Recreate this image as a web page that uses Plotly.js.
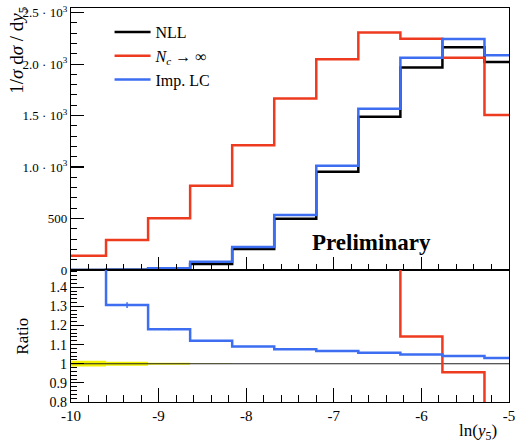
<!DOCTYPE html>
<html>
<head>
<meta charset="utf-8">
<script src="https://cdn.plot.ly/plotly-3.0.1.min.js"></script>
<style>html,body{margin:0;padding:0;background:#fff;}#chart{width:515px;height:443px;}</style>
</head>
<body>
<div id="chart"></div>
<script>
// Bin edges in ln(y5)
const binEdges = [-10.08, -9.6, -9.12, -8.64, -8.16, -7.68, -7.2, -6.72, -6.24, -5.76, -5.28, -4.8];
const binCenters = [-9.84, -9.36, -8.88, -8.40, -7.92, -7.44, -6.96, -6.48, -6.00, -5.52, -5.04];

// Top panel: 1/sigma dsigma/dy5
const nllValues   = [0, 2, 10, 58, 203, 498, 955, 1489, 1968, 2163, 2020];
const ncInfValues = [139, 291, 502, 819, 1211, 1667, 2046, 2308, 2246, 2062, 1505];
const impLCValues = [0, 3, 17, 81, 224, 534, 1013, 1567, 2062, 2243, 2085];

// Ratio panel (to NLL)
const ratioNLL    = [1, 1, 1, 1, 1, 1, 1, 1, 1, 1, 1];
const ratioNLLErr = [0.015, 0.011, 0.005, 0.001, 0, 0, 0, 0, 0, 0, 0];
const ratioNcInf  = [null, null, null, null, null, null, 2.14, 1.55, 1.142, 0.955, 0.745];
const ratioImpLC  = [1.8, 1.307, 1.18, 1.12, 1.09, 1.076, 1.066, 1.057, 1.048, 1.04, 1.03];
const ratioImpLCErr = [0, 0.015, 0.005, 0.004, 0.002, 0.002, 0.002, 0.002, 0.002, 0.002, 0.002];

const yTickVals = [0, 500, 1000, 1500, 2000, 2500];
const yTickText = ["0", "500", "1.0 · 10<sup>3</sup>", "1.5 · 10<sup>3</sup>", "2.0 · 10<sup>3</sup>", "2.5 · 10<sup>3</sup>"];
const rTickVals = [0.8, 0.9, 1, 1.1, 1.2, 1.3, 1.4];
const rTickText = ["0.8", "0.9", "1", "1.1", "1.2", "1.3", "1.4"];
const xTickVals = [-10, -9, -8, -7, -6, -5];
const xTickText = ["-10", "-9", "-8", "-7", "-6", "-5"];

const RED = '#ee3b20', BLUE = '#3d6ef2', BLACK = '#000000', YELLOW = '#f2f200';

function stepY(vals) { return vals.concat([vals[vals.length - 1]]); }
function stepFrom(vals, edges) {
  let i0 = vals.findIndex(v => v !== null);
  const v = vals.slice(i0);
  return { x: edges.slice(i0), y: v.concat([v[v.length - 1]]) };
}

const traces = [];
// Top panel
traces.push({ x: binEdges, y: stepY(nllValues), type: 'scatter', mode: 'lines', line: { shape: 'hv', color: BLACK, width: 2.5 }, name: 'NLL', xaxis: 'x', yaxis: 'y' });
traces.push({ x: binEdges, y: stepY(ncInfValues), type: 'scatter', mode: 'lines', line: { shape: 'hv', color: RED, width: 2.5 }, name: '<i>N<sub>c</sub></i> → ∞', xaxis: 'x', yaxis: 'y' });
traces.push({ x: binEdges, y: stepY(impLCValues), type: 'scatter', mode: 'lines', line: { shape: 'hv', color: BLUE, width: 2.5 }, name: 'Imp. LC', xaxis: 'x', yaxis: 'y' });

// Ratio panel
traces.push({ x: binCenters, y: ratioNLLErr.map(e => 2 * e), base: ratioNLL.map((r, i) => r - ratioNLLErr[i]), type: 'bar', width: 0.48, marker: { color: YELLOW, opacity: 1, line: { width: 0 } }, showlegend: false, xaxis: 'x2', yaxis: 'y2', hoverinfo: 'skip' });
traces.push({ x: binEdges, y: stepY(ratioNLL), type: 'scatter', mode: 'lines', line: { shape: 'hv', color: '#222', width: 1.2 }, showlegend: false, xaxis: 'x2', yaxis: 'y2' });
const rr = stepFrom(ratioNcInf, binEdges);
traces.push({ x: rr.x, y: rr.y, type: 'scatter', mode: 'lines', line: { shape: 'hv', color: RED, width: 2.5 }, showlegend: false, xaxis: 'x2', yaxis: 'y2' });
traces.push({ x: binEdges, y: stepY(ratioImpLC), type: 'scatter', mode: 'lines', line: { shape: 'hv', color: BLUE, width: 2.5 }, showlegend: false, xaxis: 'x2', yaxis: 'y2' });
traces.push({ x: binCenters, y: ratioImpLC, type: 'scatter', mode: 'markers', marker: { size: 1, color: BLUE, opacity: 0 }, error_y: { type: 'data', array: ratioImpLCErr, width: 0, thickness: 1.5, color: BLUE }, showlegend: false, xaxis: 'x2', yaxis: 'y2' });

const FONT = 'Liberation Serif, serif';
const axCommon = { showline: true, linecolor: '#000', linewidth: 1.2, mirror: true, zeroline: false, showgrid: false, ticks: 'inside', tickcolor: '#000' };

const layout = {
  width: 515, height: 443,
  margin: { l: 71, r: 6, t: 8, b: 41 },
  paper_bgcolor: '#fff', plot_bgcolor: '#fff',
  font: { family: FONT, size: 14, color: '#000' },
  showlegend: true,
  barmode: 'overlay',
  legend: { x: 0.088, y: 0.982, xanchor: 'left', yanchor: 'top', bgcolor: 'rgba(0,0,0,0)', borderwidth: 0, font: { family: FONT, size: 16 }, tracegroupgap: 0, itemwidth: 36 },
  xaxis: Object.assign({}, axCommon, { domain: [0, 1], range: [-10, -5], anchor: 'y', tickvals: xTickVals, ticklen: 13, tickwidth: 1.2, showticklabels: false, minor: { dtick: 0.2, tick0: -10, ticks: 'inside', ticklen: 6, tickcolor: '#000', tickwidth: 1 } }),
  yaxis: Object.assign({}, axCommon, { domain: [0.335, 1], range: [0, 2545], anchor: 'x', tickvals: yTickVals, ticktext: yTickText, ticklen: 13, tickwidth: 1.2, tickfont: { family: FONT, size: 13 }, minor: { dtick: 100, tick0: 0, ticks: 'inside', ticklen: 6, tickcolor: '#000', tickwidth: 1 } }),
  xaxis2: Object.assign({}, axCommon, { domain: [0, 1], range: [-10, -5], anchor: 'y2', tickvals: xTickVals, ticktext: xTickText, ticklen: 14, tickwidth: 1.2, ticklabeloverflow: 'allow', tickfont: { family: FONT, size: 15 }, minor: { dtick: 0.2, tick0: -10, ticks: 'inside', ticklen: 7, tickcolor: '#000', tickwidth: 1 } }),
  yaxis2: Object.assign({}, axCommon, { domain: [0, 0.335], range: [0.8, 1.49], anchor: 'x2', tickvals: rTickVals, ticktext: rTickText, ticklen: 13, tickwidth: 1.2, tickfont: { family: FONT, size: 14 }, minor: { dtick: 0.02, tick0: 0.8, ticks: 'inside', ticklen: 6, tickcolor: '#000', tickwidth: 1 } }),
  annotations: [
    { text: '1/<i>σ</i> d<i>σ</i> / d<i>y</i><sub>5</sub>', xref: 'paper', yref: 'paper', x: -0.12, y: 1.012, xanchor: 'center', yanchor: 'top', textangle: -90, showarrow: false, font: { family: FONT, size: 19 } },
    { text: 'Ratio', xref: 'paper', yref: 'paper', x: -0.11, y: 0.168, xanchor: 'center', yanchor: 'middle', textangle: -90, showarrow: false, font: { family: FONT, size: 17 } },
    { text: 'ln(<i>y</i><sub>5</sub>)', xref: 'paper', yref: 'paper', x: 0.93, y: -0.076, xanchor: 'center', yanchor: 'middle', showarrow: false, font: { family: FONT, size: 17 } },
    { text: '<b>Preliminary</b>', xref: 'paper', yref: 'paper', x: 0.687, y: 0.406, xanchor: 'center', yanchor: 'middle', showarrow: false, font: { family: FONT, size: 23 } }
  ]
};

Plotly.newPlot('chart', traces, layout, { displayModeBar: false, staticPlot: true });
</script>
</body>
</html>
